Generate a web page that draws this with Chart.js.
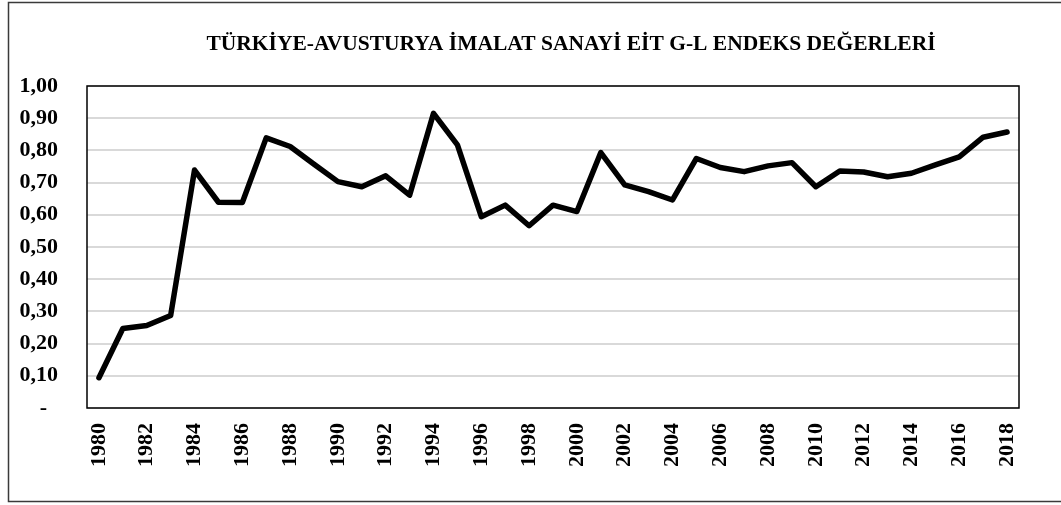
<!DOCTYPE html>
<html>
<head>
<meta charset="utf-8">
<script src="https://cdn.jsdelivr.net/npm/chart.js@4"></script>
<style>
  html, body { margin: 0; padding: 0; background: #fff; }
  #wrap { width: 1061px; height: 505px; }
</style>
</head>
<body>
<div id="wrap"><canvas id="chart" width="1061" height="505"></canvas></div>
<script>
const years = [];
for (let y = 1980; y <= 2018; y++) years.push(String(y));

const indexValues = [
    0.094, 0.247, 0.256, 0.287, 0.739, 0.639, 0.638, 0.839, 0.812, 0.757,
    0.703, 0.687, 0.721, 0.661, 0.915, 0.817, 0.594, 0.630, 0.566, 0.630,
    0.610, 0.793, 0.693, 0.672, 0.646, 0.775, 0.747, 0.734, 0.752, 0.762,
    0.687, 0.736, 0.733, 0.718, 0.729, 0.755, 0.780, 0.841, 0.857
];

const chartTitle = 'TÜRKİYE-AVUSTURYA İMALAT SANAYİ EİT G-L ENDEKS DEĞERLERİ';
const serif = "'Liberation Serif', 'Times New Roman', serif";

// title, frame around the whole chart and box around the plot area
const frames = {
    id: 'frames',
    afterDraw(chart) {
        const ctx = chart.ctx;
        const a = chart.chartArea;
        ctx.save();
        ctx.fillStyle = '#000';
        ctx.font = 'bold 21.5px ' + serif;
        ctx.textAlign = 'center';
        ctx.textBaseline = 'middle';
        ctx.fillText(chartTitle, 571, 44);
        ctx.strokeStyle = '#3a3a3a';
        ctx.lineWidth = 1.5;
        ctx.strokeRect(8.5, 2.5, 1070, 499);
        ctx.strokeStyle = '#000';
        ctx.lineWidth = 1.5;
        ctx.strokeRect(a.left, a.top, a.right - a.left, a.bottom - a.top);
        ctx.restore();
    }
};

const ctx = document.getElementById('chart');
const data = {
    labels: years,
    datasets: [{
        data: indexValues,
        borderColor: '#000',
        borderWidth: 5.5,
        borderJoinStyle: 'round',
        borderCapStyle: 'round',
        pointRadius: 0,
        tension: 0,
        fill: false,
    }]
};
const config = {
    type: 'line',
    data: data,
    plugins: [frames],
    options: {
        responsive: false,
        animation: false,
        layout: { padding: { left: 0, right: 42, top: 86, bottom: 0 } },
        plugins: {
            legend: { display: false },
            tooltip: { enabled: false },
            title: { display: false }
        },
        scales: {
            x: {
                offset: true,
                afterFit: function (scale) { scale.height = 97; },
                grid: { display: false, drawTicks: false },
                border: { display: false },
                ticks: {
                    autoSkip: false,
                    minRotation: 90,
                    maxRotation: 90,
                    padding: 15,
                    color: '#000',
                    font: { family: serif, size: 22, weight: 'bold' },
                    callback: function (val, i) {
                        return i % 2 === 0 ? years[i] : '';
                    }
                }
            },
            y: {
                min: 0,
                max: 1,
                afterFit: function (scale) { scale.width = 87; },
                grid: { color: '#d9d9d9', lineWidth: 2, drawTicks: false },
                border: { display: false },
                ticks: {
                    stepSize: 0.1,
                    padding: 29,
                    color: '#000',
                    font: { family: serif, size: 22, weight: 'bold' },
                    callback: function (v) {
                        if (Math.abs(v) < 1e-9) return '-  ';
                        return v.toFixed(2).replace('.', ',');
                    }
                }
            }
        }
    }
};

_ = new Chart(ctx, config);
</script>
</body>
</html>
